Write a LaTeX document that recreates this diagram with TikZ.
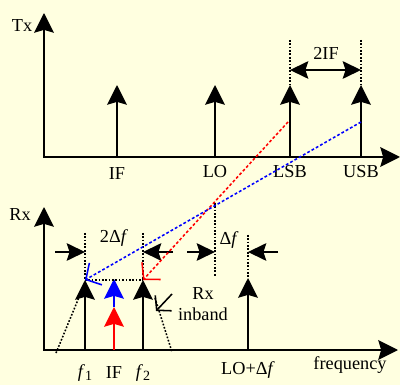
\documentclass[tikz,border=0pt]{standalone}
\usepackage{fontspec}
\setmainfont{Liberation Serif}
\usetikzlibrary{arrows.meta}
\definecolor{bg}{RGB}{255,255,224}
\begin{document}
\begin{tikzpicture}[x=0.025cm,y=-0.025cm,
  lbl/.style={font=\fontsize{13}{15}\selectfont, inner sep=0pt},
  tip/.tip={Stealth[length=14pt,width=14pt,inset=2pt]},
  mtip/.tip={Stealth[length=13pt,width=12.5pt,inset=2pt]},
  ax/.style={line width=1.4pt, {tip}-{tip}},
  spike/.style={line width=1.4pt, -{tip}},
  guide/.style={line width=1.1pt, dash pattern=on 1.2pt off 1.2pt},
  meas/.style={line width=1.1pt, -{mtip}},
  dmeas/.style={line width=1.1pt, {mtip}-{mtip}},
  map/.style={line width=1.1pt, dash pattern=on 2pt off 1.5pt, -{Straight Barb[length=8pt,width=18pt]}},
]
\fill[bg] (0,0) rectangle (400,385);
\useasboundingbox (0,0) rectangle (400,385);

% ---------- Tx panel ----------
\coordinate (T0) at (44,157);
\coordinate (Ttop) at (44,13);
\coordinate (Tend) at (400,157);
\draw[ax] (Ttop) -- (T0) -- (Tend);
\node[lbl] (Tx) at (22,26) {Tx};

\coordinate (ifB) at (117,157);  \coordinate (ifT) at (117,85);
\coordinate (loB) at (215,157);  \coordinate (loT) at (215,85);
\coordinate (lsbB) at (290,157); \coordinate (lsbT) at (290,85);
\coordinate (usbB) at (361,157); \coordinate (usbT) at (361,85);
\draw[spike] (ifB) -- (ifT);
\draw[spike] (loB) -- (loT);
\draw[spike] (lsbB) -- (lsbT);
\draw[spike] (usbB) -- (usbT);
\node[lbl] (lIF) at (117,174) {IF};
\node[lbl] (lLO) at (215,172) {LO};
\node[lbl] (lLSB) at (290,172) {LSB};
\node[lbl] (lUSB) at (361,172) {USB};

\coordinate (lsbG) at (290,40);
\coordinate (usbG) at (361,40);
\draw[guide] (lsbG) -- (lsbT);
\draw[guide] (usbG) -- (usbT);
\coordinate (ifA) at (290,70);
\coordinate (ifZ) at (361,70);
\draw[dmeas] (ifA) -- (ifZ);
\node[lbl] (l2IF) at (326,53) {2IF};

% ---------- Rx panel ----------
\coordinate (R0) at (44,350);
\coordinate (Rtop) at (44,207);
\coordinate (Rend) at (398,350);
\draw[ax] (Rtop) -- (R0) -- (Rend);
\node[lbl] (Rx) at (20,215) {Rx};

\coordinate (f1B) at (85,350);  \coordinate (f1T) at (85,280);
\coordinate (f2B) at (143,350); \coordinate (f2T) at (143,280);
\coordinate (irB) at (114,350); \coordinate (irT) at (114,307);
\coordinate (ibT) at (114,279);
\coordinate (lodB) at (248,350); \coordinate (lodT) at (248,278);
\draw[spike] (f1B) -- (f1T);
\draw[spike] (f2B) -- (f2T);
\draw[spike, red] (irB) -- (irT);
\draw[spike, blue] (irT) -- (ibT);
\draw[spike] (lodB) -- (lodT);

\node[lbl] (lf1) at (85,373) {\textit{f}\raisebox{-0.35ex}{\fontsize{10}{11}\selectfont 1}};
\node[lbl] (lIFr) at (114,373) {IF};
\node[lbl] (lf2) at (143,373) {\textit{f}\raisebox{-0.35ex}{\fontsize{10}{11}\selectfont 2}};
\node[lbl] (lLOd) at (248,370) {LO+Δ\textit{f}};
\node[lbl] (lfreq) at (350,365) {frequency};

% guides
\draw[guide] (f1T) -- (f2T);
\coordinate (f1G) at (85,233);
\coordinate (f2G) at (143,233);
\coordinate (loG) at (215,203);
\coordinate (loGb) at (215,276);
\coordinate (lodG) at (248,235);
\draw[guide] (f1G) -- (f1T);
\draw[guide] (f2G) -- (f2T);
\draw[guide] (loG) -- (loGb);
\draw[guide] (lodG) -- (lodT);

% skirts
\coordinate (skL1) at (56,353); \coordinate (skL2) at (82,290);
\coordinate (skR1) at (155,298); \coordinate (skR2) at (172,352);
\draw[guide] (skL1) -- (skL2);
\draw[guide] (skR1) -- (skR2);

% measurement arrows
\coordinate (m1a) at (55,252);  \coordinate (m1b) at (85,252);
\coordinate (m2a) at (173,252); \coordinate (m2b) at (143,252);
\coordinate (m3a) at (187,252); \coordinate (m3b) at (215,252);
\coordinate (m4a) at (278,252); \coordinate (m4b) at (248,252);
\draw[meas] (m1a) -- (m1b);
\draw[meas] (m2a) -- (m2b);
\draw[meas] (m3a) -- (m3b);
\draw[meas] (m4a) -- (m4b);
\node[lbl] (l2df) at (114,238) {2Δ\textit{f}};
\node[lbl] (ldf) at (229,240) {Δ\textit{f}};

% mapping lines
\coordinate (lsbM) at (288,122);
\coordinate (usbM) at (361,122);
\draw[map, red] (lsbM) -- (f2T);
\draw[map, blue] (usbM) -- (f1T);

% Rx inband
\node[lbl, align=center] (inb) at (203,304) {Rx\\inband};
\coordinate (inA) at (172,294);
\coordinate (inB) at (156,311);
\draw[line width=1.1pt, -{Straight Barb[length=7pt,width=16pt]}] (inA) -- (inB);
\end{tikzpicture}
\end{document}
